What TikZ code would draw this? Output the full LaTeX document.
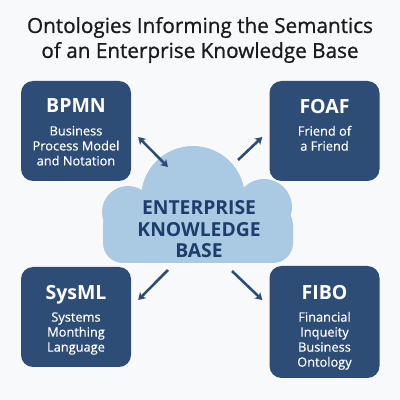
\documentclass[tikz,border=0pt]{standalone}
\usepackage{fontspec}
\setmainfont{Open Sans}
\newfontface\headface{Open Sans}[FakeBold=0.9]
\newfontface\noteface{Open Sans}[FakeBold=0.4]
\usetikzlibrary{arrows.meta, positioning}
\definecolor{ontoblue}{HTML}{2D4D76}
\definecolor{kbfill}{HTML}{AAC9E2}
\definecolor{kbtext}{HTML}{1D3E6C}
\definecolor{pagebg}{HTML}{F8F9FA}
\definecolor{headink}{HTML}{1B1B1B}
\tikzset{
  obox/.style    = {rectangle, rounded corners=12pt, fill=ontoblue,
                    minimum width=110pt, minimum height=100pt, inner sep=0pt},
  otext/.style   = {align=center, text=white, inner sep=0pt,
                    font=\noteface\fontsize{12.8}{15}\selectfont},
  olink/.style   = {->, draw=ontoblue, line width=2.6pt},
  kbpuff/.style  = {fill=kbfill},
  kblabel/.style = {align=center, text=kbtext, inner sep=0pt,
                    font=\bfseries\fontsize{19.3}{21.5}\selectfont},
  heading/.style = {align=center, text=headink, inner sep=0pt,
                    font=\headface\fontsize{20.7}{25}\selectfont},
  >={Stealth[length=7pt, width=8.5pt, inset=2pt]},
}
\newcommand{\ontoname}[1]{{\normalfont\bfseries\fontsize{19.5}{22}\selectfont #1}}

\begin{document}
\begin{tikzpicture}[x=1pt, y=1pt]
  \fill[pagebg] (0,0) rectangle (400,400);
  \useasboundingbox (0,0) rectangle (400,400);
  % heading
  \node[heading] (title) at (200,360)
    {Ontologies Informing the Semantics\\of an Enterprise Knowledge Base};
  % knowledge base cloud
  \fill[kbpuff] (128,188) circle (26);
  \fill[kbpuff] (193,202) circle (52);
  \fill[kbpuff] (264,193) circle (28);
  \fill[kbpuff, rounded corners=20pt] (103,137) rectangle (293,195);
  \node[kblabel] (kb) at (199,170.4) {ENTERPRISE\\KNOWLEDGE\\BASE};
  \coordinate (kbnw) at (168,233);
  \coordinate (kbne) at (238,240);
  \coordinate (kbsw) at (168,130);
  \coordinate (kbse) at (232,129);
  % ontology boxes
  \node[obox] (bpmn) at (76,269) {};
  \node[otext, below=18pt of bpmn.north] (bpmntext)
    {\ontoname{BPMN}\\[7.5pt]Business\\Process Model\\and Notation};
  \node[obox] (foaf) at (324.5,269) {};
  \node[otext, below=18pt of foaf.north] (foaftext)
    {\ontoname{FOAF}\\[7.5pt]Friend of\\a Friend};
  \node[obox] (sysml) at (76,83) {};
  \node[otext, below=18pt of sysml.north] (sysmltext)
    {\ontoname{SysML}\\[7.5pt]Systems\\Monthing\\Language};
  \node[obox, minimum height=112pt] (fibo) at (324.5,78) {};
  \node[otext, below=19pt of fibo.north] (fibotext)
    {\ontoname{FIBO}\\[7.5pt]Financial\\Inqueity\\Business\\Ontology};
  % links
  \draw[olink, <->] ([shift={(7,-6)}]bpmn.east) -- (kbnw);
  \draw[olink] (kbne) -- ([shift={(-7,-6)}]foaf.west);
  \draw[olink] (kbsw) -- ([shift={(7,17)}]sysml.east);
  \draw[olink] (kbse) -- ([shift={(-7,22)}]fibo.west);
\end{tikzpicture}
\end{document}
